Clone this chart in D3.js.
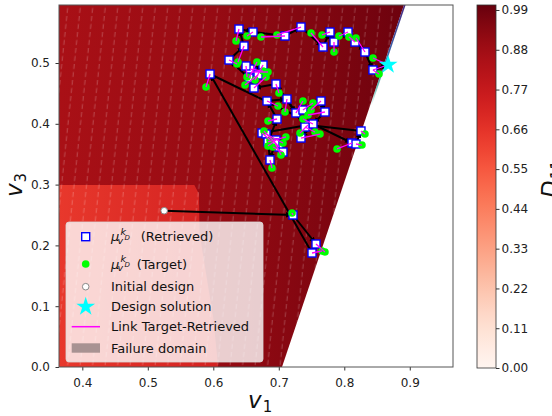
<!DOCTYPE html>
<html><head><meta charset="utf-8">
<script src="https://cdn.jsdelivr.net/npm/d3@7"></script>
<style>
body{margin:0;background:#fff}
svg{display:block;font-family:"DejaVu Sans",sans-serif}
</style>
</head><body>
<svg id="chart" width="552" height="416"></svg>
<script>
// ---------- data ----------
const xTicks = [0.4, 0.5, 0.6, 0.7, 0.8, 0.9];
const yTicks = [0.0, 0.1, 0.2, 0.3, 0.4, 0.5];
const cbTicks = [0.00, 0.11, 0.22, 0.33, 0.44, 0.55, 0.66, 0.77, 0.88, 0.99];

const initialDesign = [0.525, 0.257];
const designSolution = [0.867, 0.497];

// retrieved points (in path order)
const retrievedV1 = [0.7217,0.7568,0.7507,0.5950,0.8118,0.8179,0.8255,0.7446,0.6744,0.6805,
  0.6957,0.7003,0.7064,0.6942,0.6866,0.6835,0.6973,0.6820,0.7125,0.7262,
  0.7369,0.7644,0.7705,0.7522,0.7339,0.7400,0.6957,0.6621,0.6591,0.6759,
  0.6561,0.6683,0.6500,0.6545,0.6240,0.6469,0.6392,0.6606,0.7095,0.7339,
  0.7675,0.7782,0.7843,0.8057,0.8164,0.8316,0.8438];
const retrievedV3 = [0.2500,0.2023,0.1875,0.4819,0.3684,0.3668,0.3882,0.3980,0.3849,0.3832,
  0.3734,0.3618,0.3536,0.3684,0.3405,0.3701,0.4079,0.4375,0.4408,0.4178,
  0.4227,0.4375,0.4194,0.3997,0.3766,0.3947,0.4655,0.4589,0.4852,0.4967,
  0.4901,0.4803,0.4951,0.4753,0.5049,0.5280,0.5559,0.5510,0.5444,0.5592,
  0.5263,0.5510,0.5345,0.5510,0.5345,0.5181,0.4885];
// matching targets
const targetV1 = [0.7202,0.7705,0.7660,0.5889,0.7889,0.8270,0.8316,0.7324,0.6866,0.7064,
  0.6835,0.6774,0.6911,0.7034,0.6896,0.7109,0.6835,0.6988,0.7095,0.7369,
  0.7522,0.7492,0.7446,0.7369,0.7629,0.7553,0.7003,0.6805,0.6835,0.6637,
  0.6759,0.6484,0.6515,0.6667,0.6362,0.6377,0.6347,0.6515,0.6728,0.6972,
  0.7492,0.7660,0.7843,0.7919,0.8072,0.8179,0.8530];
const targetV3 = [0.2533,0.1891,0.1908,0.4605,0.3586,0.3651,0.3832,0.3849,0.3734,0.3684,
  0.3635,0.3882,0.3618,0.3487,0.3273,0.3783,0.4046,0.4293,0.4194,0.4375,
  0.4342,0.4227,0.4145,0.4079,0.3832,0.3865,0.4507,0.4770,0.4852,0.4720,
  0.4868,0.4638,0.4770,0.5016,0.4984,0.5016,0.5362,0.5444,0.5428,0.5461,
  0.5493,0.5461,0.5181,0.5444,0.5428,0.5411,0.4819];
const solutionTarget = [0.8438, 0.5082];

// contour regions (data coordinates)
const failureBoundary = [[0.7049, 0.0], [0.8911, 0.5954]];
const lowRegion = [[0.30, -0.05], [0.612, -0.05], [0.600, 0.08], [0.579, 0.22], [0.578, 0.285], [0.571, 0.2993], [0.30, 0.2993]];

// ---------- setup ----------
const svg = d3.select("#chart");
const L = 59, R = 453, T = 5, B = 367;
const x = d3.scaleLinear().domain([0.3644, 0.966]).range([L, R]);
const y = d3.scaleLinear().domain([0, 0.5954]).range([B, T]);
const reds = d3.interpolateReds;

const defs = svg.append("defs");
defs.append("clipPath").attr("id", "plotclip").append("rect")
  .attr("x", L).attr("y", T).attr("width", R - L).attr("height", B - T);

// main gradient
const g1 = defs.append("linearGradient").attr("id", "mainGrad")
  .attr("gradientUnits", "userSpaceOnUse")
  .attr("x1", x(0.3644)).attr("x2", x(0.89)).attr("y1", 0).attr("y2", 0);
[[0, 0.855], [0.45, 0.9], [1, 0.985]].forEach(([o, t]) =>
  g1.append("stop").attr("offset", o).attr("stop-color", reds(t)));
const g2 = defs.append("linearGradient").attr("id", "lowGrad")
  .attr("gradientUnits", "userSpaceOnUse")
  .attr("x1", x(0.3644)).attr("x2", x(0.6)).attr("y1", 0).attr("y2", 0);
[[0, 0.64], [1, 0.72]].forEach(([o, t]) =>
  g2.append("stop").attr("offset", o).attr("stop-color", reds(t)));

// hatch pattern
const pat = defs.append("pattern").attr("id", "hatch")
  .attr("patternUnits", "userSpaceOnUse").attr("width", 12.5).attr("height", 16)
  .attr("patternTransform", "skewX(-6)");
pat.append("line").attr("x1", 6).attr("x2", 6).attr("y1", 0).attr("y2", 16)
  .attr("stroke", "rgba(255,255,255,0.3)").attr("stroke-width", 0.8)
  .attr("stroke-dasharray", "5,3");

// edge gradient (contour line near boundary)
const eg = defs.append("linearGradient").attr("id", "edgeGrad")
  .attr("gradientUnits", "userSpaceOnUse")
  .attr("x1", 0).attr("x2", 0).attr("y1", y(0.5954)).attr("y2", y(0.43));
[[0, "#4a2a80", 1], [0.45, "#3b5fa8", 1], [0.8, "#3fa8a0", 0.8], [1, "#3fb8a8", 0]].forEach(([o, c, a]) =>
  eg.append("stop").attr("offset", o).attr("stop-color", c).attr("stop-opacity", a));

// ---------- contour regions ----------
const plot = svg.append("g").attr("clip-path", "url(#plotclip)");
const [b0, b1] = failureBoundary;
const slope = (b1[0] - b0[0]) / (b1[1] - b0[1]);
const bAt = v3 => b0[0] + slope * (v3 - b0[1]);
const failPoly = [[0.30, -0.05], [bAt(-0.05), -0.05], [bAt(0.65), 0.65], [0.30, 0.65]];
const line = d3.line().x(d => x(d[0])).y(d => y(d[1]));
plot.append("path").attr("d", line(failPoly) + "Z").attr("fill", "url(#mainGrad)");
plot.append("path").attr("d", line(lowRegion) + "Z").attr("fill", "url(#lowGrad)");
plot.append("path").attr("d", line(failPoly) + "Z").attr("fill", "url(#hatch)");
plot.append("path").attr("d", line([[bAt(0.43), 0.43], [bAt(0.62), 0.62]]))
  .attr("stroke", "url(#edgeGrad)").attr("stroke-width", 1.6).attr("fill", "none")
  .attr("transform", "translate(0.8,0)");

// ---------- path (black arrows) ----------
const pathPts = [initialDesign].concat(retrievedV1.map((v, i) => [v, retrievedV3[i]])).concat([designSolution]);
defs.append("marker").attr("id", "arrow").attr("markerUnits", "userSpaceOnUse")
  .attr("viewBox", "0 0 10 10").attr("refX", 10).attr("refY", 5)
  .attr("markerWidth", 7).attr("markerHeight", 7).attr("orient", "auto")
  .append("path").attr("d", "M0,1 L10,5 L0,9 Z").attr("fill", "#000");
const pg = plot.append("g");
for (let i = 0; i < pathPts.length - 1; i++) {
  pg.append("line")
    .attr("x1", x(pathPts[i][0])).attr("y1", y(pathPts[i][1]))
    .attr("x2", x(pathPts[i + 1][0])).attr("y2", y(pathPts[i + 1][1]))
    .attr("stroke", "#000").attr("stroke-width", 2).attr("marker-end", "url(#arrow)");
}

// ---------- markers ----------
const pairs = retrievedV1.map((v, i) => ({rx: v, ry: retrievedV3[i], tx: targetV1[i], ty: targetV3[i]}));
const mg = plot.append("g");
mg.selectAll("rect.ret").data(pairs).join("rect").attr("class", "ret")
  .attr("x", d => x(d.rx) - 4).attr("y", d => y(d.ry) - 4).attr("width", 8).attr("height", 8)
  .attr("fill", "#fff").attr("stroke", "#0000ff").attr("stroke-width", 1.4);
mg.selectAll("circle.tar").data(pairs).join("circle").attr("class", "tar")
  .attr("cx", d => x(d.tx)).attr("cy", d => y(d.ty)).attr("r", 3.8).attr("fill", "#00ff00");
mg.append("circle").attr("cx", x(solutionTarget[0])).attr("cy", y(solutionTarget[1])).attr("r", 3.8).attr("fill", "#00ff00");
mg.selectAll("line.link").data(pairs).join("line").attr("class", "link")
  .attr("x1", d => x(d.rx)).attr("y1", d => y(d.ry)).attr("x2", d => x(d.tx)).attr("y2", d => y(d.ty))
  .attr("stroke", "#ff00ff").attr("stroke-width", 1.3);
mg.append("line").attr("x1", x(designSolution[0])).attr("y1", y(designSolution[1]))
  .attr("x2", x(solutionTarget[0])).attr("y2", y(solutionTarget[1]))
  .attr("stroke", "#ff00ff").attr("stroke-width", 1.3);
mg.append("line").attr("x1", x(designSolution[0])).attr("y1", y(designSolution[1]))
  .attr("x2", x(retrievedV1[retrievedV1.length-1])).attr("y2", y(retrievedV3[retrievedV3.length-1]))
  .attr("stroke", "#ff00ff").attr("stroke-width", 1.3);
mg.append("circle").attr("cx", x(initialDesign[0])).attr("cy", y(initialDesign[1])).attr("r", 3.3)
  .attr("fill", "#fff").attr("stroke", "#888").attr("stroke-width", 1);
mg.append("path").attr("d", d3.symbol(d3.symbolStar, 110)())
  .attr("transform", `translate(${x(designSolution[0])},${y(designSolution[1])})`).attr("fill", "#00ffff");

// ---------- axes ----------
const fmt1 = d3.format(".1f");
const xa = svg.append("g").attr("transform", `translate(0,${B})`)
  .call(d3.axisBottom(x).tickValues(xTicks).tickFormat(fmt1).tickSize(3.5).tickPadding(7.5));
const ya = svg.append("g").attr("transform", `translate(${L},0)`)
  .call(d3.axisLeft(y).tickValues(yTicks).tickFormat(fmt1).tickSize(3.5).tickPadding(5.5));
[xa, ya].forEach(a => {
  a.select(".domain").remove();
  a.selectAll("text").attr("font-size", 12).attr("font-family", "DejaVu Sans").attr("fill", "#222");
  a.selectAll("line").attr("stroke", "#333");
});
svg.append("rect").attr("x", L).attr("y", T).attr("width", R - L).attr("height", B - T)
  .attr("fill", "none").attr("stroke", "#555").attr("stroke-width", 1);

// axis labels
const xl = svg.append("text").attr("x", 248).attr("y", 408).attr("font-size", 23).attr("fill", "#111");
xl.append("tspan").attr("font-style", "italic").text("v");
xl.append("tspan").attr("font-size", 15).attr("dy", 4).attr("dx", 1).text("1");
const yl = svg.append("text").attr("transform", "translate(22,197) rotate(-90)").attr("font-size", 23).attr("fill", "#111");
yl.append("tspan").attr("font-style", "italic").text("v");
yl.append("tspan").attr("font-size", 15).attr("dy", 4).attr("dx", 1).text("3");

// ---------- legend ----------
const lg = svg.append("g");
lg.append("rect").attr("x", 66).attr("y", 222).attr("width", 197).attr("height", 140).attr("rx", 3)
  .attr("fill", "#fff").attr("fill-opacity", 0.8).attr("stroke", "#d8d8d8").attr("stroke-opacity", 0.8);
const lx = 85.7, tx0 = 111, fs = 13;
lg.append("rect").attr("x", lx - 4).attr("y", 236.7 - 4).attr("width", 8).attr("height", 8)
  .attr("fill", "#fff").attr("stroke", "#0000ff").attr("stroke-width", 1.4);
lg.append("circle").attr("cx", lx).attr("cy", 264).attr("r", 3.8).attr("fill", "#00ff00");
lg.append("circle").attr("cx", lx).attr("cy", 286.7).attr("r", 3.3).attr("fill", "#fff").attr("stroke", "#888");
lg.append("path").attr("d", d3.symbol(d3.symbolStar, 110)()).attr("transform", `translate(${lx},306.7)`).attr("fill", "#00ffff");
lg.append("line").attr("x1", 71.7).attr("x2", 100).attr("y1", 326.7).attr("y2", 326.7).attr("stroke", "#ff00ff").attr("stroke-width", 1.5);
lg.append("rect").attr("x", 71.7).attr("y", 343.3).attr("width", 28.3).attr("height", 9.4).attr("fill", "#a89292");

function muLabel(cy, rest, restX) {
  const t = lg.append("text").attr("x", tx0).attr("y", cy + 4.5).attr("font-size", fs).attr("fill", "#111");
  t.append("tspan").attr("font-style", "italic").text("μ");
  t.append("tspan").attr("x", 120.5).attr("dy", -6.5).attr("font-size", 9.5).attr("font-style", "italic").text("k");
  t.append("tspan").attr("x", 117.5).attr("dy", 8.8).attr("font-size", 9.5).attr("font-style", "italic").text("v");
  t.append("tspan").attr("x", 124.5).attr("dy", -3.5).attr("font-size", 7).attr("font-style", "italic").text("D");
  t.append("tspan").attr("x", restX).attr("dy", 1.2).text(rest);
}
muLabel(236.7, "(Retrieved)", 140.7);
muLabel(264, "(Target)", 136.7);
[["Initial design", 286.7], ["Design solution", 306.7], ["Link Target-Retrieved", 326.7], ["Failure domain", 348]]
  .forEach(([t, cy]) => lg.append("text").attr("x", tx0).attr("y", cy + 4.6).attr("font-size", fs).attr("fill", "#111").text(t));

// ---------- colorbar ----------
const cbX = 477, cbW = 19;
const cb = d3.scaleLinear().domain([0, 1.0038]).range([368, 5]);
const cg = defs.append("linearGradient").attr("id", "cbGrad").attr("x1", 0).attr("x2", 0).attr("y1", 1).attr("y2", 0);
d3.range(0, 1.0001, 0.05).forEach(t => cg.append("stop").attr("offset", t).attr("stop-color", reds(t)));
svg.append("rect").attr("x", cbX).attr("y", cb(1.0038)).attr("width", cbW).attr("height", cb(0) - cb(1.0038))
  .attr("fill", "url(#cbGrad)").attr("stroke", "#333").attr("stroke-width", 0.8);
const ca = svg.append("g").attr("transform", `translate(${cbX + cbW},0)`)
  .call(d3.axisRight(cb).tickValues(cbTicks).tickFormat(d3.format(".2f")).tickSize(3.5).tickPadding(2));
ca.select(".domain").remove();
ca.selectAll("text").attr("font-size", 12).attr("font-family", "DejaVu Sans").attr("fill", "#222");
ca.selectAll("line").attr("stroke", "#333");
const dl = svg.append("text").attr("transform", "translate(558,198) rotate(-90)").attr("font-size", 23).attr("fill", "#111");
dl.append("tspan").attr("font-style", "italic").text("D");
dl.append("tspan").attr("font-size", 15).attr("dy", 4).attr("dx", 1).text("11");
</script>
</body></html>
